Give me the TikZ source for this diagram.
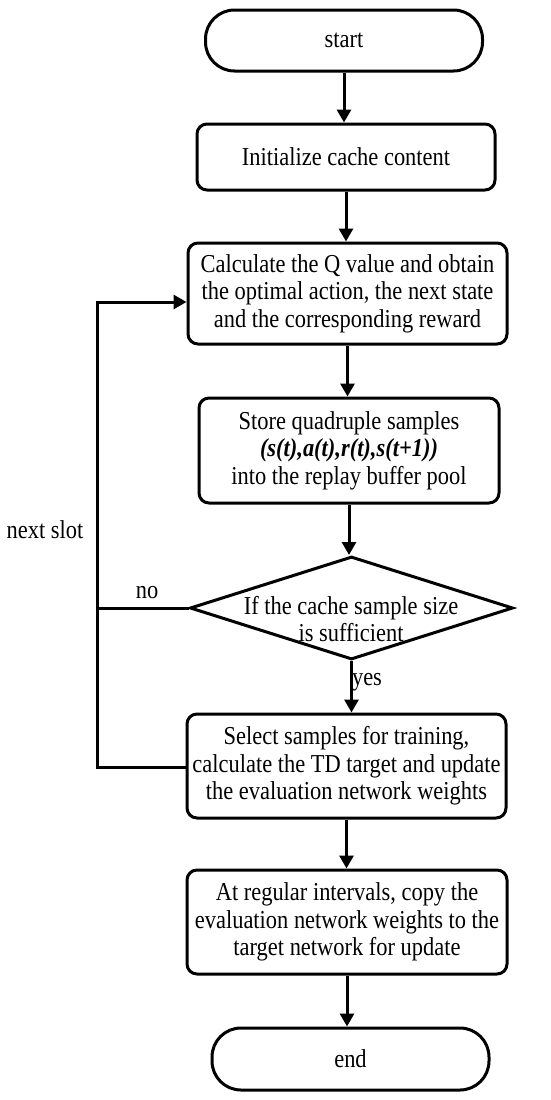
\documentclass[tikz,border=0pt]{standalone}
\usepackage{fontspec}
\setmainfont{Liberation Serif}[FakeStretch=0.87]
\usetikzlibrary{shapes.geometric,arrows.meta,calc}
\begin{document}
\begin{tikzpicture}[x=1pt,y=-1pt,
  box/.style={draw,line width=3pt,rounded corners=10pt,align=center,inner sep=0pt},
  term/.style={draw,line width=3pt,rounded corners=29pt,inner sep=0pt},
  arr/.style={line width=3pt,-{Triangle[width=14pt,length=13pt]}},
  conn/.style={line width=3pt},
  lbl/.style={inner sep=0pt},
  font=\fontsize{25.8}{27.5}\selectfont]
\useasboundingbox (0,0) rectangle (550,1100);
\node[term,minimum width=277pt,minimum height=61pt] (start) at (344,40.5) {start};
\node[box,minimum width=298pt,minimum height=66pt] (init) at (346,157) {Initialize cache content};
\node[box,minimum width=319pt,minimum height=101pt] (calc) at (347.5,293.5) {Calculate the Q value and obtain\\the optimal action, the next state\\and the corresponding reward};
\node[box,minimum width=300pt,minimum height=105pt] (store) at (349,450.5) {Store quadruple samples\\\textbf{\textit{(s(t),a(t),r(t),s(t+1))}}\\into the replay buffer pool};
\node[draw,diamond,line width=3pt,minimum width=323pt,minimum height=103pt,inner sep=0pt] (dec) at (351.5,608) {};
\node[lbl,align=center] (dectext) at (351,619) {If the cache sample size\\is sufficient};
\node[box,minimum width=319pt,minimum height=104pt] (sel) at (346.5,766) {Select samples for training,\\calculate the TD target and update\\the evaluation network weights};
\node[box,minimum width=320pt,minimum height=104pt] (copy) at (347,922) {At regular intervals, copy the\\evaluation network weights to the\\target network for update};
\node[term,minimum width=277pt,minimum height=62pt] (end) at (350.5,1059) {end};

\draw[arr] (start.south) -- (start.south |- init.north);
\draw[arr] (init.south) -- (init.south |- calc.north);
\draw[arr] (calc.south) -- (calc.south |- store.north);
\draw[arr] (store.south) -- (store.south |- dec.north);
\draw[arr] (dec.south) -- (dec.south |- sel.north);
\draw[arr] (sel.south) -- (sel.south |- copy.north);
\draw[arr] (copy.south) -- (copy.south |- end.north);

\coordinate (lb) at (97,767);
\coordinate (lt) at (97,302);
\draw[conn] (dec.west) -- (dec.west -| lb);
\draw[arr] (sel.west |- lb) -- (lb) -- (lt) -- (lt -| calc.west);

\node[lbl] (no) at (147,593) {no};
\node[lbl] (yes) at (367,682) {yes};
\node[lbl] (next) at (45,530) {next slot};
\end{tikzpicture}
\end{document}
